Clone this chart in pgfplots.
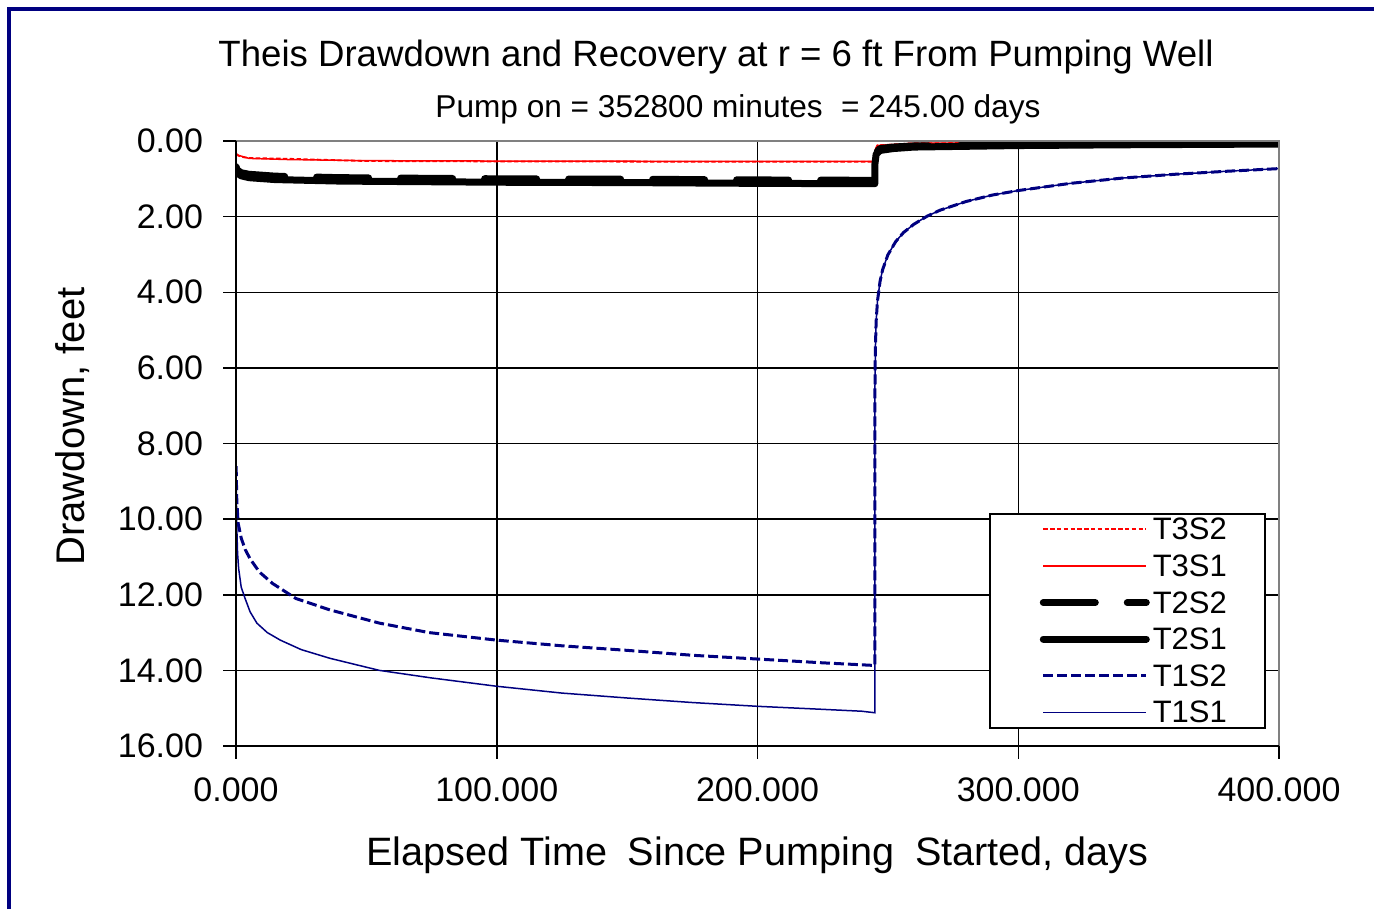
\documentclass[border=0pt]{standalone}
\usepackage{pgfplots}
\pgfplotsset{compat=1.18}
\usepackage{fontspec}
\setmainfont{Liberation Sans}
\definecolor{navy}{RGB}{0,0,128}

\pgfplotsset{
  t3s2/.style={red, line width=0.9pt, dash pattern=on 2.2pt off 1.2pt},
  t3s1/.style={red, line width=0.75pt},
  t2s2/.style={black, line width=3.5pt, line cap=round, line join=round, dash pattern=on 26pt off 16pt},
  t2s1/.style={black, line width=3.5pt, line cap=round, line join=round},
  t1s2/.style={navy, line width=1.5pt, dash pattern=on 5pt off 2pt},
  t1s1/.style={navy, line width=0.75pt},
}

\begin{document}
\begin{tikzpicture}
\path[use as bounding box] (0pt,0pt) rectangle (687pt,-454.5pt);
\draw[navy, line width=1.7pt] (4.5pt,-454.5pt) -- (4.5pt,-4.5pt) -- (687pt,-4.5pt);

\node[anchor=base, font=\fontsize{18.3}{20}\selectfont] at (358pt,-33.35pt)
  {Theis Drawdown and Recovery at r = 6 ft From Pumping Well};
\node[anchor=base, font=\fontsize{15.8}{17}\selectfont] at (369pt,-58.65pt)
  {Pump on = 352800 minutes\hspace{0.3em} = 245.00 days};
\node[anchor=base, font=\fontsize{19.8}{21}\selectfont] at (378.75pt,-432.5pt)
  {Elapsed Time\hspace{0.25em} Since Pumping\hspace{0.25em} Started, days};
\node[anchor=base, rotate=90, font=\fontsize{20}{22}\selectfont] at (42pt,-213.25pt)
  {Drawdown, feet};

\begin{axis}[
  name=ax,
  at={(118pt,-373pt)}, anchor=south west,
  scale only axis, width=521.5pt, height=302.5pt,
  xmin=0, xmax=400, ymin=0, ymax=16, y dir=reverse,
  xtick={0,100,200,300,400}, ytick={0,2,...,16},
  scaled ticks=false,
  axis line style={draw=none},
  grid=major, major grid style={black, line width=0.75pt},
  tick align=outside, major tick length=6.5pt,
  tick style={draw=none},
  tick label style={font=\fontsize{17}{19}\selectfont},
  /pgf/number format/assume math mode=true,
  yticklabel style={xshift=-6.5pt, /pgf/number format/.cd, fixed, fixed zerofill, precision=2},
  xticklabel style={yshift=-6pt, /pgf/number format/.cd, fixed, fixed zerofill, precision=3},
  legend cell align=left,
  legend style={at={(axis cs:288.8,9.84)}, anchor=north west,
    draw=black, line width=0.75pt, fill=white,
    inner xsep=0pt, inner ysep=0.5pt, row sep=3.8pt, column sep=1.5pt,
    nodes={inner sep=0pt, text height=12.5pt, text depth=2pt, text width=56pt,
      font=\fontsize{15.5}{17}\selectfont}},
  legend image code/.code={\path (-25pt,0pt); \draw[#1] (0pt,0pt) -- (51.5pt,0pt);},
]

% T3 (red) drawn first so the black lines cover it near zero
\addplot[t3s1, forget plot] coordinates {
 (0,0.33) (1,0.38) (3,0.42) (5,0.46) (20,0.49) (50,0.52) (100,0.53) (200,0.54) (245,0.54)
 (245.05,0.25) (246,0.12) (250,0.1) (253,0.09) (260,0.06) (300,0.05) (400,0.03)
};
\addplot[t3s2, forget plot] coordinates {
 (0,0.35) (1,0.39) (3,0.43) (5,0.45) (20,0.47) (50,0.53) (100,0.54) (200,0.55) (245,0.55)
 (245.05,0.24) (246,0.11) (250,0.1) (253,0.09) (260,0.06) (300,0.05) (400,0.03)
};

% T1 (navy)
\addplot[t1s1, forget plot] coordinates {
 (0.1,9.2) (0.3,10.2) (0.6,10.9) (1,11.3) (2,11.8) (3.5,12.1) (5.4,12.45) (8,12.75)
 (12,13.0) (17,13.2) (25,13.45) (36,13.68) (55,14.0) (75,14.2) (100,14.42) (125,14.6)
 (150,14.73) (175,14.85) (200,14.95) (225,15.03) (240,15.08) (245,15.12)
 (245.05,6.5) (245.2,5.5) (245.5,4.77) (246,4.24) (247,3.71) (248,3.4) (250,3.01)
 (253,2.66) (256,2.42) (260,2.2) (265,1.99) (270,1.83) (280,1.6) (290,1.43) (300,1.31)
 (320,1.12) (340,0.98) (360,0.88) (380,0.8) (400,0.73)
};
\addplot[t1s2, forget plot] coordinates {
 (0.05,8.6) (0.3,9.5) (0.8,10.1) (2,10.5) (3.5,10.8) (5.4,11.05) (9,11.4) (14,11.7)
 (23,12.1) (36,12.4) (55,12.75) (74,13.0) (100,13.2) (125,13.35) (150,13.47) (175,13.6)
 (200,13.7) (225,13.8) (245,13.87)
 (245.05,6.5) (245.2,5.5) (245.5,4.77) (246,4.24) (247,3.71) (248,3.4) (250,3.01)
 (253,2.66) (256,2.42) (260,2.2) (265,1.99) (270,1.83) (280,1.6) (290,1.43) (300,1.31)
 (320,1.12) (340,0.98) (360,0.88) (380,0.8) (400,0.73)
};

% T2 (black)
\addplot[t2s1, forget plot] coordinates {
 (0,0.75) (0.5,0.85) (2,0.92) (5,0.97) (15,1.02) (40,1.06) (100,1.09) (150,1.1)
 (200,1.12) (245,1.13)
 (245.05,0.6) (245.5,0.35) (247,0.25) (252,0.2) (260,0.16) (280,0.14) (300,0.12)
 (340,0.1) (400,0.08)
};
\addplot[t2s2, forget plot] coordinates {
 (0,0.68) (0.5,0.77) (2,0.84) (5,0.88) (15,0.93) (40,0.97) (100,1.0) (150,1.01)
 (200,1.03) (245,1.04)
 (245.05,0.5) (245.5,0.3) (247,0.2) (252,0.16) (260,0.13) (300,0.1) (400,0.06)
};

\addlegendimage{t3s2} \addlegendentry{T3S2}
\addlegendimage{t3s1} \addlegendentry{T3S1}
\addlegendimage{t2s2} \addlegendentry{T2S2}
\addlegendimage{t2s1} \addlegendentry{T2S1}
\addlegendimage{t1s2} \addlegendentry{T1S2}
\addlegendimage{t1s1} \addlegendentry{T1S1}
\end{axis}

% plot-area frame and outside tick marks
\draw[gray, line width=1.2pt] (118pt,-70.5pt) -- (639.5pt,-70.5pt) -- (639.5pt,-373pt);
\draw[black, line width=1pt] (118pt,-70.5pt) -- (118pt,-373pt) -- (639.5pt,-373pt);
\foreach \i in {0,...,8}
  \draw[black, line width=0.75pt] (111.5pt,-70.5pt-\i*37.8125pt) -- (118pt,-70.5pt-\i*37.8125pt);
\foreach \i in {0,...,4}
  \draw[black, line width=0.75pt] (118pt+\i*130.375pt,-373pt) -- (118pt+\i*130.375pt,-379.5pt);
\end{tikzpicture}
\end{document}
